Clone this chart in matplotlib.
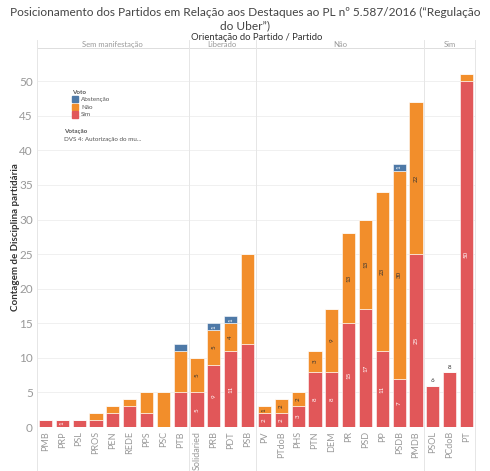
import matplotlib
matplotlib.use("Agg")
import matplotlib.pyplot as plt
from matplotlib.patches import Patch
from matplotlib.lines import Line2D
from matplotlib.transforms import blended_transform_factory

plt.rcParams["font.family"] = ["Lato", "DejaVu Sans"]

parties = ["PMB", "PRP", "PSL", "PROS", "PEN", "REDE", "PPS", "PSC", "PTB",
           "Solidaried", "PRB", "PDT", "PSB",
           "PV", "PTdoB", "PHS", "PTN", "DEM", "PR", "PSD", "PP", "PSDB", "PMDB",
           "PSOL", "PCdoB", "PT"]
groups = ["Sem manifestação", "Liberado", "Não", "Sim"]
group_sizes = [9, 4, 10, 3]

sim = [1, 1, 1, 1, 2, 3, 2, 0, 5, 5, 9, 11, 12, 2, 2, 3, 8, 8, 15, 17, 11, 7, 25, 6, 8, 50]
nao = [0, 0, 0, 1, 1, 1, 3, 5, 6, 5, 5, 4, 13, 1, 2, 2, 3, 9, 13, 13, 23, 30, 22, 0, 0, 1]
abst = [0, 0, 0, 0, 0, 0, 0, 0, 1, 0, 1, 1, 0, 0, 0, 0, 0, 0, 0, 0, 0, 1, 0, 0, 0, 0]

# parties where tableau printed the segment labels
labelled = ["PRP", "Solidaried", "PRB", "PDT", "PV", "PTdoB", "PHS", "PTN", "DEM",
            "PR", "PSD", "PP", "PSDB", "PMDB", "PT"]
label_above = ["PSOL", "PCdoB"]

c_sim = "#e15759"
c_nao = "#f28e2b"
c_abs = "#4e79a7"
grey = "#999999"

fig = plt.figure(figsize=(4.9, 4.71), dpi=100)
ax = fig.add_axes([37/490, 44/471, 438/490, 379/471])

x = list(range(len(parties)))
bottom2 = [s + n for s, n in zip(sim, nao)]
w = 0.78
ax.bar(x, sim, width=w, color=c_sim, edgecolor="white", linewidth=0.4)
ax.bar(x, nao, width=w, bottom=sim, color=c_nao, edgecolor="white", linewidth=0.4)
ax.bar(x, abst, width=w, bottom=bottom2, color=c_abs, edgecolor="white", linewidth=0.4)

for i, p in enumerate(parties):
    if p in labelled:
        if sim[i] > 0:
            ax.text(i, sim[i] / 2, str(sim[i]), rotation=90, ha="center", va="center",
                    fontsize=4.5, color="white")
        if nao[i] > 1 or (nao[i] == 1 and p == "PV"):
            ax.text(i, sim[i] + nao[i] / 2, str(nao[i]), rotation=90, ha="center",
                    va="center", fontsize=4.5, color="#333333")
        if abst[i] > 0:
            ax.text(i, bottom2[i] + abst[i] / 2, str(abst[i]), rotation=90, ha="center",
                    va="center", fontsize=4.5, color="white")
    if p in label_above:
        ax.text(i, sim[i] + 0.3, str(sim[i]), ha="center", va="bottom",
                fontsize=4.5, color="#333333")

ax.set_xlim(-0.5, len(parties) - 0.5)
ax.set_ylim(0, 54.8)
ax.set_yticks(range(0, 55, 5))
ax.tick_params(axis="y", length=0, labelsize=8.5, labelcolor=grey, pad=3)
ax.set_xticks(x)
ax.set_xticklabels(parties, rotation=90, fontsize=6.5, color=grey)
ax.tick_params(axis="x", length=0, pad=3)
ax.grid(axis="y", color="#f0f0f0", linewidth=0.7)
ax.set_axisbelow(True)
for s in ax.spines.values():
    s.set_visible(False)
ax.set_ylabel("Contagem de Disciplina partidária", fontsize=7, color="#333333",
              fontweight="bold", va="center")
ax.yaxis.set_label_coords(-21.5/438, 0.5)

# header row and panel separators
trans = blended_transform_factory(ax.transData, fig.transFigure)
top_y = 1 - 48/471
head_y = 1 - 40/471
ax.add_line(Line2D([-0.5, len(parties) - 0.5], [top_y, top_y], transform=trans,
                   color="#dddddd", linewidth=0.7, clip_on=False))
edges = [-0.5]
for g in group_sizes:
    edges.append(edges[-1] + g)
for e in edges:
    ax.add_line(Line2D([e, e], [0, head_y], transform=trans, color="#e6e6e6",
                       linewidth=0.7, clip_on=False))
for g, a, b in zip(groups, edges[:-1], edges[1:]):
    ax.text((a + b) / 2, 1 - 44.5/471, g, transform=trans, ha="center", va="center",
            fontsize=5.5, color=grey)

fig.text(257/490, 1 - 37/471, "Orientação do Partido / Partido", ha="center",
         va="center", fontsize=6.8, color="#333333")
fig.text(0.5, 1 - 19/471,
         "Posicionamento dos Partidos em Relação aos Destaques ao PL nº 5.587/2016 (\u201cRegulação\ndo Uber\u201d)",
         ha="center", va="center", fontsize=8.6, color="#444444", linespacing=1.25)

handles = [Patch(color=c_abs, label="Abstenção"),
           Patch(color=c_nao, label="Não"),
           Patch(color=c_sim, label="Sim")]
leg = fig.legend(handles=handles, title="Voto", loc="upper left",
                 bbox_to_anchor=(66/490, 1 - 84/471), frameon=False, fontsize=4.5,
                 title_fontsize=4.5, handlelength=1.0, handleheight=1.2,
                 handletextpad=0.5, labelspacing=0.2, alignment="left")
for t in leg.get_texts():
    t.set_color("#555555")
leg.get_title().set_color("#555555")
leg.get_title().set_fontweight("bold")

fig.text(64/490, 1 - 132/471, "Votação", fontsize=4.5, color="#555555",
         fontweight="bold", va="center")
fig.text(64/490, 1 - 140/471, "DVS 4: Autorização do mu...", fontsize=4.5,
         color="#555555", va="center")

fig.savefig("out.png", dpi=100)
